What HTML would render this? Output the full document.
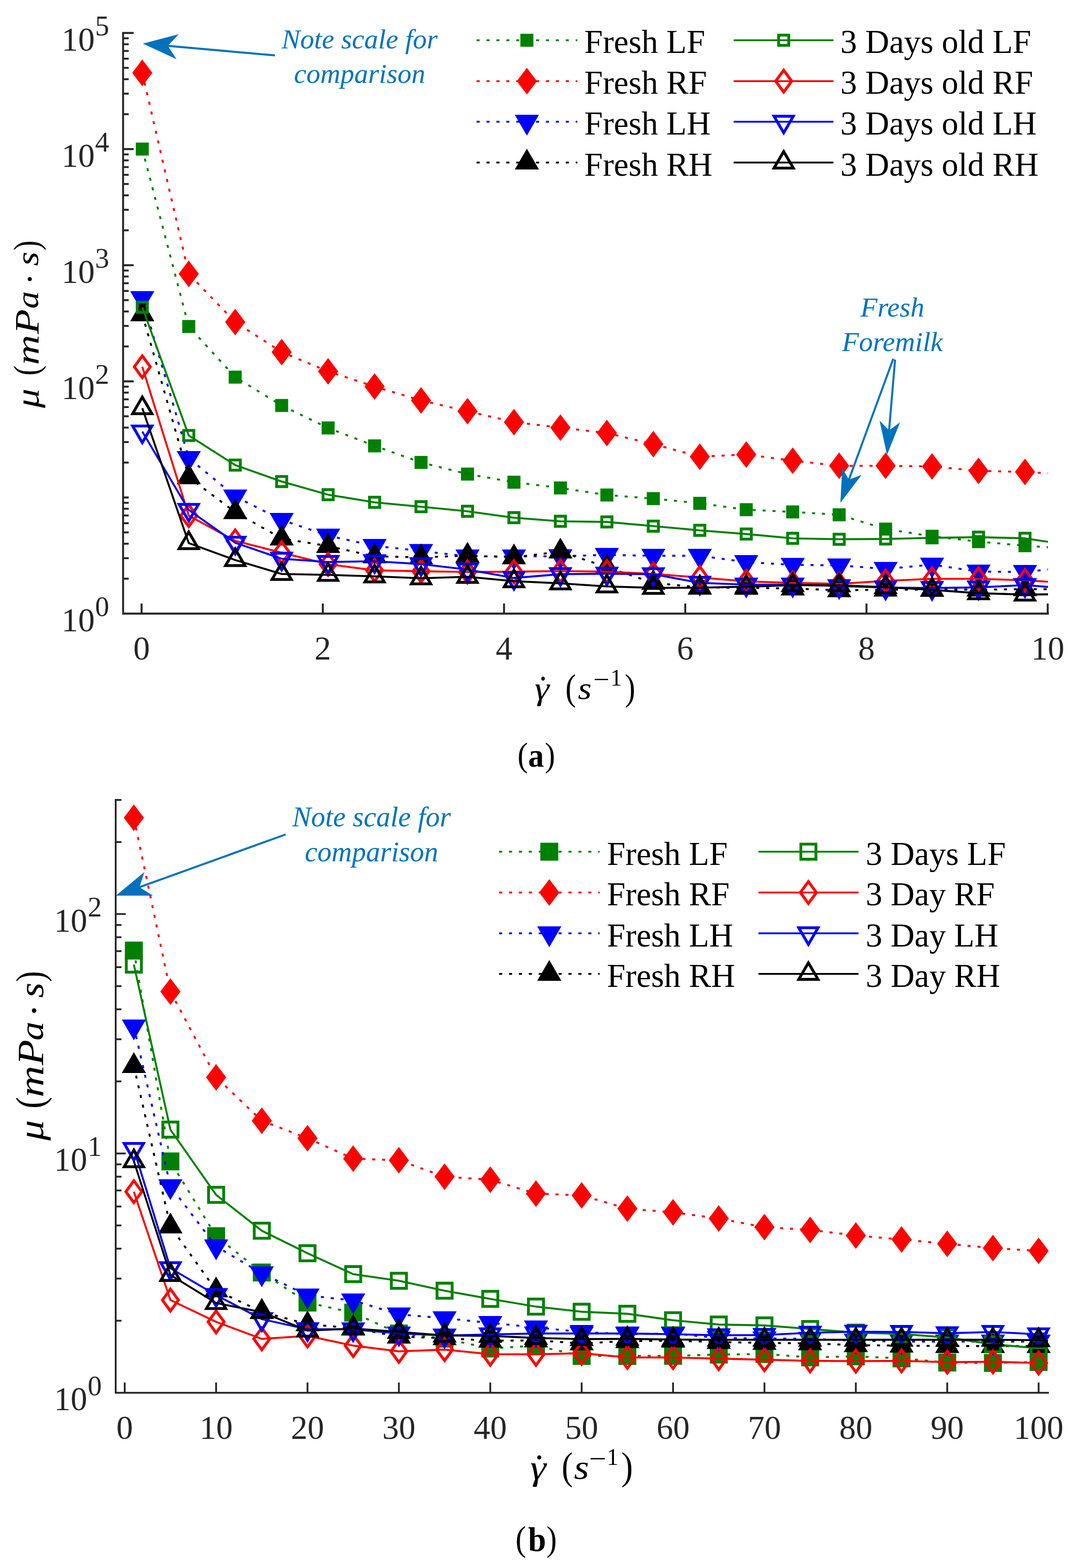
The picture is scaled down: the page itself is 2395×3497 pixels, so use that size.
<!DOCTYPE html><html><head><meta charset="utf-8"><title>Viscosity of breast milk</title>
<style>html,body{margin:0;padding:0;background:#fff;}svg{display:block;}</style></head><body>
<svg width="2395" height="3497" viewBox="0 0 2395 3497">
<rect width="2395" height="3497" fill="#fff"/>
<defs><clipPath id="ca"><rect x="274.5" y="60" width="2062.5" height="1310"/></clipPath><clipPath id="cb"><rect x="258" y="1770" width="2079" height="1338"/></clipPath></defs>
<polyline points="317.3,332.4 420.9,728.2 524.5,841.1 628.1,904.3 731.7,954.4 835.3,994.4 938.9,1031.3 1042.5,1057.3 1146.1,1075.4 1249.7,1088.2 1353.3,1104 1456.9,1112 1560.5,1122.5 1664.1,1136.7 1767.7,1141.7 1871.3,1148.1 1974.9,1180 2078.5,1196 2182.1,1208 2285.7,1217 2337,1220.5" fill="none" stroke="#008000" stroke-width="4.3" stroke-linejoin="round" stroke-dasharray="6.8 15.3" clip-path="url(#ca)"/>
<polygon points="302.8,317.9 331.8,317.9 331.8,346.9 302.8,346.9" fill="#008000"/>
<polygon points="406.4,713.7 435.4,713.7 435.4,742.7 406.4,742.7" fill="#008000"/>
<polygon points="510,826.6 539,826.6 539,855.6 510,855.6" fill="#008000"/>
<polygon points="613.6,889.8 642.6,889.8 642.6,918.8 613.6,918.8" fill="#008000"/>
<polygon points="717.2,939.9 746.2,939.9 746.2,968.9 717.2,968.9" fill="#008000"/>
<polygon points="820.8,979.9 849.8,979.9 849.8,1008.9 820.8,1008.9" fill="#008000"/>
<polygon points="924.4,1016.8 953.4,1016.8 953.4,1045.8 924.4,1045.8" fill="#008000"/>
<polygon points="1028,1042.8 1057,1042.8 1057,1071.8 1028,1071.8" fill="#008000"/>
<polygon points="1131.6,1060.9 1160.6,1060.9 1160.6,1089.9 1131.6,1089.9" fill="#008000"/>
<polygon points="1235.2,1073.7 1264.2,1073.7 1264.2,1102.7 1235.2,1102.7" fill="#008000"/>
<polygon points="1338.8,1089.5 1367.8,1089.5 1367.8,1118.5 1338.8,1118.5" fill="#008000"/>
<polygon points="1442.4,1097.5 1471.4,1097.5 1471.4,1126.5 1442.4,1126.5" fill="#008000"/>
<polygon points="1546,1108 1575,1108 1575,1137 1546,1137" fill="#008000"/>
<polygon points="1649.6,1122.2 1678.6,1122.2 1678.6,1151.2 1649.6,1151.2" fill="#008000"/>
<polygon points="1753.2,1127.2 1782.2,1127.2 1782.2,1156.2 1753.2,1156.2" fill="#008000"/>
<polygon points="1856.8,1133.6 1885.8,1133.6 1885.8,1162.6 1856.8,1162.6" fill="#008000"/>
<polygon points="1960.4,1165.5 1989.4,1165.5 1989.4,1194.5 1960.4,1194.5" fill="#008000"/>
<polygon points="2064,1181.5 2093,1181.5 2093,1210.5 2064,1210.5" fill="#008000"/>
<polygon points="2167.6,1193.5 2196.6,1193.5 2196.6,1222.5 2167.6,1222.5" fill="#008000"/>
<polygon points="2271.2,1202.5 2300.2,1202.5 2300.2,1231.5 2271.2,1231.5" fill="#008000"/>
<polyline points="317.3,162.5 420.9,610.8 524.5,718.3 628.1,785.2 731.7,828.2 835.3,862.1 938.9,893 1042.5,917.1 1146.1,941.4 1249.7,953.7 1353.3,965.7 1456.9,990.6 1560.5,1018.5 1664.1,1013.7 1767.7,1027.4 1871.3,1038.8 1974.9,1038.8 2078.5,1040.2 2182.1,1050.2 2285.7,1052.5 2337,1055.6" fill="none" stroke="#FF0000" stroke-width="4.3" stroke-linejoin="round" stroke-dasharray="6.8 15.3" clip-path="url(#ca)"/>
<polygon points="317.3,132.75 339.8,162.5 317.3,192.25 294.8,162.5" fill="#FF0000"/>
<polygon points="420.9,581.05 443.4,610.8 420.9,640.55 398.4,610.8" fill="#FF0000"/>
<polygon points="524.5,688.55 547,718.3 524.5,748.05 502,718.3" fill="#FF0000"/>
<polygon points="628.1,755.45 650.6,785.2 628.1,814.95 605.6,785.2" fill="#FF0000"/>
<polygon points="731.7,798.45 754.2,828.2 731.7,857.95 709.2,828.2" fill="#FF0000"/>
<polygon points="835.3,832.35 857.8,862.1 835.3,891.85 812.8,862.1" fill="#FF0000"/>
<polygon points="938.9,863.25 961.4,893 938.9,922.75 916.4,893" fill="#FF0000"/>
<polygon points="1042.5,887.35 1065,917.1 1042.5,946.85 1020,917.1" fill="#FF0000"/>
<polygon points="1146.1,911.65 1168.6,941.4 1146.1,971.15 1123.6,941.4" fill="#FF0000"/>
<polygon points="1249.7,923.95 1272.2,953.7 1249.7,983.45 1227.2,953.7" fill="#FF0000"/>
<polygon points="1353.3,935.95 1375.8,965.7 1353.3,995.45 1330.8,965.7" fill="#FF0000"/>
<polygon points="1456.9,960.85 1479.4,990.6 1456.9,1020.35 1434.4,990.6" fill="#FF0000"/>
<polygon points="1560.5,988.75 1583,1018.5 1560.5,1048.25 1538,1018.5" fill="#FF0000"/>
<polygon points="1664.1,983.95 1686.6,1013.7 1664.1,1043.45 1641.6,1013.7" fill="#FF0000"/>
<polygon points="1767.7,997.65 1790.2,1027.4 1767.7,1057.15 1745.2,1027.4" fill="#FF0000"/>
<polygon points="1871.3,1009.05 1893.8,1038.8 1871.3,1068.55 1848.8,1038.8" fill="#FF0000"/>
<polygon points="1974.9,1009.05 1997.4,1038.8 1974.9,1068.55 1952.4,1038.8" fill="#FF0000"/>
<polygon points="2078.5,1010.45 2101,1040.2 2078.5,1069.95 2056,1040.2" fill="#FF0000"/>
<polygon points="2182.1,1020.45 2204.6,1050.2 2182.1,1079.95 2159.6,1050.2" fill="#FF0000"/>
<polygon points="2285.7,1022.75 2308.2,1052.5 2285.7,1082.25 2263.2,1052.5" fill="#FF0000"/>
<polyline points="317.3,664.7 420.9,1021.5 524.5,1107.2 628.1,1159.6 731.7,1194.5 835.3,1217.4 938.9,1228.8 1042.5,1240.9 1146.1,1240.9 1249.7,1240.4 1353.3,1237.6 1456.9,1239.5 1560.5,1239.5 1664.1,1253.6 1767.7,1259.7 1871.3,1260.9 1974.9,1268.8 2078.5,1259.2 2182.1,1274.8 2285.7,1275.6 2337,1270" fill="none" stroke="#0000FF" stroke-width="4.3" stroke-linejoin="round" stroke-dasharray="6.8 15.3" clip-path="url(#ca)"/>
<polygon points="290.3,649.2 344.3,649.2 317.3,695.7" fill="#0000FF"/>
<polygon points="393.9,1006 447.9,1006 420.9,1052.5" fill="#0000FF"/>
<polygon points="497.5,1091.7 551.5,1091.7 524.5,1138.2" fill="#0000FF"/>
<polygon points="601.1,1144.1 655.1,1144.1 628.1,1190.6" fill="#0000FF"/>
<polygon points="704.7,1179 758.7,1179 731.7,1225.5" fill="#0000FF"/>
<polygon points="808.3,1201.9 862.3,1201.9 835.3,1248.4" fill="#0000FF"/>
<polygon points="911.9,1213.3 965.9,1213.3 938.9,1259.8" fill="#0000FF"/>
<polygon points="1015.5,1225.4 1069.5,1225.4 1042.5,1271.9" fill="#0000FF"/>
<polygon points="1119.1,1225.4 1173.1,1225.4 1146.1,1271.9" fill="#0000FF"/>
<polygon points="1222.7,1224.9 1276.7,1224.9 1249.7,1271.4" fill="#0000FF"/>
<polygon points="1326.3,1222.1 1380.3,1222.1 1353.3,1268.6" fill="#0000FF"/>
<polygon points="1429.9,1224 1483.9,1224 1456.9,1270.5" fill="#0000FF"/>
<polygon points="1533.5,1224 1587.5,1224 1560.5,1270.5" fill="#0000FF"/>
<polygon points="1637.1,1238.1 1691.1,1238.1 1664.1,1284.6" fill="#0000FF"/>
<polygon points="1740.7,1244.2 1794.7,1244.2 1767.7,1290.7" fill="#0000FF"/>
<polygon points="1844.3,1245.4 1898.3,1245.4 1871.3,1291.9" fill="#0000FF"/>
<polygon points="1947.9,1253.3 2001.9,1253.3 1974.9,1299.8" fill="#0000FF"/>
<polygon points="2051.5,1243.7 2105.5,1243.7 2078.5,1290.2" fill="#0000FF"/>
<polygon points="2155.1,1259.3 2209.1,1259.3 2182.1,1305.8" fill="#0000FF"/>
<polygon points="2258.7,1260.1 2312.7,1260.1 2285.7,1306.6" fill="#0000FF"/>
<polyline points="317.3,700.9 420.9,1064.4 524.5,1142.2 628.1,1201 731.7,1217.8 835.3,1240.7 938.9,1243 1042.5,1239.2 1146.1,1243.1 1249.7,1230.1 1353.3,1264.9 1456.9,1300 1560.5,1310 1664.1,1311 1767.7,1312.5 1871.3,1316.5 1974.9,1315 2078.5,1315 2182.1,1315 2285.7,1314 2337,1314" fill="none" stroke="#000000" stroke-width="4.3" stroke-linejoin="round" stroke-dasharray="6.8 15.3" clip-path="url(#ca)"/>
<polygon points="317.3,669.9 344.3,716.4 290.3,716.4" fill="#000000"/>
<polygon points="420.9,1033.4 447.9,1079.9 393.9,1079.9" fill="#000000"/>
<polygon points="524.5,1111.2 551.5,1157.7 497.5,1157.7" fill="#000000"/>
<polygon points="628.1,1170 655.1,1216.5 601.1,1216.5" fill="#000000"/>
<polygon points="731.7,1186.8 758.7,1233.3 704.7,1233.3" fill="#000000"/>
<polygon points="835.3,1209.7 862.3,1256.2 808.3,1256.2" fill="#000000"/>
<polygon points="938.9,1212 965.9,1258.5 911.9,1258.5" fill="#000000"/>
<polygon points="1042.5,1208.2 1069.5,1254.7 1015.5,1254.7" fill="#000000"/>
<polygon points="1146.1,1212.1 1173.1,1258.6 1119.1,1258.6" fill="#000000"/>
<polygon points="1249.7,1199.1 1276.7,1245.6 1222.7,1245.6" fill="#000000"/>
<polygon points="1353.3,1233.9 1380.3,1280.4 1326.3,1280.4" fill="#000000"/>
<polygon points="1456.9,1269 1483.9,1315.5 1429.9,1315.5" fill="#000000"/>
<polygon points="1560.5,1279 1587.5,1325.5 1533.5,1325.5" fill="#000000"/>
<polygon points="1664.1,1280 1691.1,1326.5 1637.1,1326.5" fill="#000000"/>
<polygon points="1767.7,1281.5 1794.7,1328 1740.7,1328" fill="#000000"/>
<polygon points="1871.3,1285.5 1898.3,1332 1844.3,1332" fill="#000000"/>
<polygon points="1974.9,1284 2001.9,1330.5 1947.9,1330.5" fill="#000000"/>
<polygon points="2078.5,1284 2105.5,1330.5 2051.5,1330.5" fill="#000000"/>
<polygon points="2182.1,1284 2209.1,1330.5 2155.1,1330.5" fill="#000000"/>
<polygon points="2285.7,1283 2312.7,1329.5 2258.7,1329.5" fill="#000000"/>
<polyline points="317.3,685.3 420.9,971.2 524.5,1037.3 628.1,1073.9 731.7,1103.3 835.3,1120.3 938.9,1130.1 1042.5,1140.3 1146.1,1154.6 1249.7,1162.6 1353.3,1164 1456.9,1173.4 1560.5,1182.8 1664.1,1191 1767.7,1200.6 1871.3,1202.7 1974.9,1202 2078.5,1199.5 2182.1,1198 2285.7,1200.5 2337,1208.5" fill="none" stroke="#008000" stroke-width="4.3" stroke-linejoin="round" clip-path="url(#ca)"/>
<path d="M302.8 670.8 L331.8 670.8 L331.8 699.8 L302.8 699.8 Z M309.1 677.1 L325.5 677.1 L325.5 693.5 L309.1 693.5 Z" fill="#008000" fill-rule="evenodd"/>
<path d="M406.4 956.7 L435.4 956.7 L435.4 985.7 L406.4 985.7 Z M412.7 963 L429.1 963 L429.1 979.4 L412.7 979.4 Z" fill="#008000" fill-rule="evenodd"/>
<path d="M510 1022.8 L539 1022.8 L539 1051.8 L510 1051.8 Z M516.3 1029.1 L532.7 1029.1 L532.7 1045.5 L516.3 1045.5 Z" fill="#008000" fill-rule="evenodd"/>
<path d="M613.6 1059.4 L642.6 1059.4 L642.6 1088.4 L613.6 1088.4 Z M619.9 1065.7 L636.3 1065.7 L636.3 1082.1 L619.9 1082.1 Z" fill="#008000" fill-rule="evenodd"/>
<path d="M717.2 1088.8 L746.2 1088.8 L746.2 1117.8 L717.2 1117.8 Z M723.5 1095.1 L739.9 1095.1 L739.9 1111.5 L723.5 1111.5 Z" fill="#008000" fill-rule="evenodd"/>
<path d="M820.8 1105.8 L849.8 1105.8 L849.8 1134.8 L820.8 1134.8 Z M827.1 1112.1 L843.5 1112.1 L843.5 1128.5 L827.1 1128.5 Z" fill="#008000" fill-rule="evenodd"/>
<path d="M924.4 1115.6 L953.4 1115.6 L953.4 1144.6 L924.4 1144.6 Z M930.7 1121.9 L947.1 1121.9 L947.1 1138.3 L930.7 1138.3 Z" fill="#008000" fill-rule="evenodd"/>
<path d="M1028 1125.8 L1057 1125.8 L1057 1154.8 L1028 1154.8 Z M1034.3 1132.1 L1050.7 1132.1 L1050.7 1148.5 L1034.3 1148.5 Z" fill="#008000" fill-rule="evenodd"/>
<path d="M1131.6 1140.1 L1160.6 1140.1 L1160.6 1169.1 L1131.6 1169.1 Z M1137.9 1146.4 L1154.3 1146.4 L1154.3 1162.8 L1137.9 1162.8 Z" fill="#008000" fill-rule="evenodd"/>
<path d="M1235.2 1148.1 L1264.2 1148.1 L1264.2 1177.1 L1235.2 1177.1 Z M1241.5 1154.4 L1257.9 1154.4 L1257.9 1170.8 L1241.5 1170.8 Z" fill="#008000" fill-rule="evenodd"/>
<path d="M1338.8 1149.5 L1367.8 1149.5 L1367.8 1178.5 L1338.8 1178.5 Z M1345.1 1155.8 L1361.5 1155.8 L1361.5 1172.2 L1345.1 1172.2 Z" fill="#008000" fill-rule="evenodd"/>
<path d="M1442.4 1158.9 L1471.4 1158.9 L1471.4 1187.9 L1442.4 1187.9 Z M1448.7 1165.2 L1465.1 1165.2 L1465.1 1181.6 L1448.7 1181.6 Z" fill="#008000" fill-rule="evenodd"/>
<path d="M1546 1168.3 L1575 1168.3 L1575 1197.3 L1546 1197.3 Z M1552.3 1174.6 L1568.7 1174.6 L1568.7 1191 L1552.3 1191 Z" fill="#008000" fill-rule="evenodd"/>
<path d="M1649.6 1176.5 L1678.6 1176.5 L1678.6 1205.5 L1649.6 1205.5 Z M1655.9 1182.8 L1672.3 1182.8 L1672.3 1199.2 L1655.9 1199.2 Z" fill="#008000" fill-rule="evenodd"/>
<path d="M1753.2 1186.1 L1782.2 1186.1 L1782.2 1215.1 L1753.2 1215.1 Z M1759.5 1192.4 L1775.9 1192.4 L1775.9 1208.8 L1759.5 1208.8 Z" fill="#008000" fill-rule="evenodd"/>
<path d="M1856.8 1188.2 L1885.8 1188.2 L1885.8 1217.2 L1856.8 1217.2 Z M1863.1 1194.5 L1879.5 1194.5 L1879.5 1210.9 L1863.1 1210.9 Z" fill="#008000" fill-rule="evenodd"/>
<path d="M1960.4 1187.5 L1989.4 1187.5 L1989.4 1216.5 L1960.4 1216.5 Z M1966.7 1193.8 L1983.1 1193.8 L1983.1 1210.2 L1966.7 1210.2 Z" fill="#008000" fill-rule="evenodd"/>
<path d="M2064 1185 L2093 1185 L2093 1214 L2064 1214 Z M2070.3 1191.3 L2086.7 1191.3 L2086.7 1207.7 L2070.3 1207.7 Z" fill="#008000" fill-rule="evenodd"/>
<path d="M2167.6 1183.5 L2196.6 1183.5 L2196.6 1212.5 L2167.6 1212.5 Z M2173.9 1189.8 L2190.3 1189.8 L2190.3 1206.2 L2173.9 1206.2 Z" fill="#008000" fill-rule="evenodd"/>
<path d="M2271.2 1186 L2300.2 1186 L2300.2 1215 L2271.2 1215 Z M2277.5 1192.3 L2293.9 1192.3 L2293.9 1208.7 L2277.5 1208.7 Z" fill="#008000" fill-rule="evenodd"/>
<polyline points="317.3,818 420.9,1150 524.5,1206.2 628.1,1232.6 731.7,1258.4 835.3,1272 938.9,1274 1042.5,1275.6 1146.1,1275 1249.7,1273.6 1353.3,1274.8 1456.9,1279.9 1560.5,1288 1664.1,1296.6 1767.7,1300 1871.3,1302.2 1974.9,1295.5 2078.5,1290.8 2182.1,1290.8 2285.7,1294.2 2337,1297.3" fill="none" stroke="#FF0000" stroke-width="4.3" stroke-linejoin="round" clip-path="url(#ca)"/>
<path d="M317.3 788.25 L339.05 818 L317.3 847.75 L295.55 818 Z M317.3 798.92 L331.25 818 L317.3 837.08 L303.35 818 Z" fill="#FF0000" fill-rule="evenodd"/>
<path d="M420.9 1120.25 L442.65 1150 L420.9 1179.75 L399.15 1150 Z M420.9 1130.92 L434.85 1150 L420.9 1169.08 L406.95 1150 Z" fill="#FF0000" fill-rule="evenodd"/>
<path d="M524.5 1176.45 L546.25 1206.2 L524.5 1235.95 L502.75 1206.2 Z M524.5 1187.12 L538.45 1206.2 L524.5 1225.28 L510.55 1206.2 Z" fill="#FF0000" fill-rule="evenodd"/>
<path d="M628.1 1202.85 L649.85 1232.6 L628.1 1262.35 L606.35 1232.6 Z M628.1 1213.52 L642.05 1232.6 L628.1 1251.68 L614.15 1232.6 Z" fill="#FF0000" fill-rule="evenodd"/>
<path d="M731.7 1228.65 L753.45 1258.4 L731.7 1288.15 L709.95 1258.4 Z M731.7 1239.32 L745.65 1258.4 L731.7 1277.48 L717.75 1258.4 Z" fill="#FF0000" fill-rule="evenodd"/>
<path d="M835.3 1242.25 L857.05 1272 L835.3 1301.75 L813.55 1272 Z M835.3 1252.92 L849.25 1272 L835.3 1291.08 L821.35 1272 Z" fill="#FF0000" fill-rule="evenodd"/>
<path d="M938.9 1244.25 L960.65 1274 L938.9 1303.75 L917.15 1274 Z M938.9 1254.92 L952.85 1274 L938.9 1293.08 L924.95 1274 Z" fill="#FF0000" fill-rule="evenodd"/>
<path d="M1042.5 1245.85 L1064.25 1275.6 L1042.5 1305.35 L1020.75 1275.6 Z M1042.5 1256.52 L1056.45 1275.6 L1042.5 1294.68 L1028.55 1275.6 Z" fill="#FF0000" fill-rule="evenodd"/>
<path d="M1146.1 1245.25 L1167.85 1275 L1146.1 1304.75 L1124.35 1275 Z M1146.1 1255.92 L1160.05 1275 L1146.1 1294.08 L1132.15 1275 Z" fill="#FF0000" fill-rule="evenodd"/>
<path d="M1249.7 1243.85 L1271.45 1273.6 L1249.7 1303.35 L1227.95 1273.6 Z M1249.7 1254.52 L1263.65 1273.6 L1249.7 1292.68 L1235.75 1273.6 Z" fill="#FF0000" fill-rule="evenodd"/>
<path d="M1353.3 1245.05 L1375.05 1274.8 L1353.3 1304.55 L1331.55 1274.8 Z M1353.3 1255.72 L1367.25 1274.8 L1353.3 1293.88 L1339.35 1274.8 Z" fill="#FF0000" fill-rule="evenodd"/>
<path d="M1456.9 1250.15 L1478.65 1279.9 L1456.9 1309.65 L1435.15 1279.9 Z M1456.9 1260.82 L1470.85 1279.9 L1456.9 1298.98 L1442.95 1279.9 Z" fill="#FF0000" fill-rule="evenodd"/>
<path d="M1560.5 1258.25 L1582.25 1288 L1560.5 1317.75 L1538.75 1288 Z M1560.5 1268.92 L1574.45 1288 L1560.5 1307.08 L1546.55 1288 Z" fill="#FF0000" fill-rule="evenodd"/>
<path d="M1664.1 1266.85 L1685.85 1296.6 L1664.1 1326.35 L1642.35 1296.6 Z M1664.1 1277.52 L1678.05 1296.6 L1664.1 1315.68 L1650.15 1296.6 Z" fill="#FF0000" fill-rule="evenodd"/>
<path d="M1767.7 1270.25 L1789.45 1300 L1767.7 1329.75 L1745.95 1300 Z M1767.7 1280.92 L1781.65 1300 L1767.7 1319.08 L1753.75 1300 Z" fill="#FF0000" fill-rule="evenodd"/>
<path d="M1871.3 1272.45 L1893.05 1302.2 L1871.3 1331.95 L1849.55 1302.2 Z M1871.3 1283.12 L1885.25 1302.2 L1871.3 1321.28 L1857.35 1302.2 Z" fill="#FF0000" fill-rule="evenodd"/>
<path d="M1974.9 1265.75 L1996.65 1295.5 L1974.9 1325.25 L1953.15 1295.5 Z M1974.9 1276.42 L1988.85 1295.5 L1974.9 1314.58 L1960.95 1295.5 Z" fill="#FF0000" fill-rule="evenodd"/>
<path d="M2078.5 1261.05 L2100.25 1290.8 L2078.5 1320.55 L2056.75 1290.8 Z M2078.5 1271.72 L2092.45 1290.8 L2078.5 1309.88 L2064.55 1290.8 Z" fill="#FF0000" fill-rule="evenodd"/>
<path d="M2182.1 1261.05 L2203.85 1290.8 L2182.1 1320.55 L2160.35 1290.8 Z M2182.1 1271.72 L2196.05 1290.8 L2182.1 1309.88 L2168.15 1290.8 Z" fill="#FF0000" fill-rule="evenodd"/>
<path d="M2285.7 1264.45 L2307.45 1294.2 L2285.7 1323.95 L2263.95 1294.2 Z M2285.7 1275.12 L2299.65 1294.2 L2285.7 1313.28 L2271.75 1294.2 Z" fill="#FF0000" fill-rule="evenodd"/>
<polyline points="317.3,962.5 420.9,1137.3 524.5,1210.5 628.1,1246.1 731.7,1253.3 835.3,1251.7 938.9,1258.2 1042.5,1270.3 1146.1,1289 1249.7,1280.5 1353.3,1279.5 1456.9,1280.7 1560.5,1299.8 1664.1,1303.8 1767.7,1303.8 1871.3,1307.2 1974.9,1310.3 2078.5,1311.3 2182.1,1310 2285.7,1304.8 2337,1309" fill="none" stroke="#0000FF" stroke-width="4.3" stroke-linejoin="round" clip-path="url(#ca)"/>
<path d="M290.3 947 L344.3 947 L317.3 993.5 Z M301.24 953.3 L333.36 953.3 L317.3 980.95 Z" fill="#0000FF" fill-rule="evenodd"/>
<path d="M393.9 1121.8 L447.9 1121.8 L420.9 1168.3 Z M404.84 1128.1 L436.96 1128.1 L420.9 1155.75 Z" fill="#0000FF" fill-rule="evenodd"/>
<path d="M497.5 1195 L551.5 1195 L524.5 1241.5 Z M508.44 1201.3 L540.56 1201.3 L524.5 1228.95 Z" fill="#0000FF" fill-rule="evenodd"/>
<path d="M601.1 1230.6 L655.1 1230.6 L628.1 1277.1 Z M612.04 1236.9 L644.16 1236.9 L628.1 1264.55 Z" fill="#0000FF" fill-rule="evenodd"/>
<path d="M704.7 1237.8 L758.7 1237.8 L731.7 1284.3 Z M715.64 1244.1 L747.76 1244.1 L731.7 1271.75 Z" fill="#0000FF" fill-rule="evenodd"/>
<path d="M808.3 1236.2 L862.3 1236.2 L835.3 1282.7 Z M819.24 1242.5 L851.36 1242.5 L835.3 1270.15 Z" fill="#0000FF" fill-rule="evenodd"/>
<path d="M911.9 1242.7 L965.9 1242.7 L938.9 1289.2 Z M922.84 1249 L954.96 1249 L938.9 1276.65 Z" fill="#0000FF" fill-rule="evenodd"/>
<path d="M1015.5 1254.8 L1069.5 1254.8 L1042.5 1301.3 Z M1026.44 1261.1 L1058.56 1261.1 L1042.5 1288.75 Z" fill="#0000FF" fill-rule="evenodd"/>
<path d="M1119.1 1273.5 L1173.1 1273.5 L1146.1 1320 Z M1130.04 1279.8 L1162.16 1279.8 L1146.1 1307.45 Z" fill="#0000FF" fill-rule="evenodd"/>
<path d="M1222.7 1265 L1276.7 1265 L1249.7 1311.5 Z M1233.64 1271.3 L1265.76 1271.3 L1249.7 1298.95 Z" fill="#0000FF" fill-rule="evenodd"/>
<path d="M1326.3 1264 L1380.3 1264 L1353.3 1310.5 Z M1337.24 1270.3 L1369.36 1270.3 L1353.3 1297.95 Z" fill="#0000FF" fill-rule="evenodd"/>
<path d="M1429.9 1265.2 L1483.9 1265.2 L1456.9 1311.7 Z M1440.84 1271.5 L1472.96 1271.5 L1456.9 1299.15 Z" fill="#0000FF" fill-rule="evenodd"/>
<path d="M1533.5 1284.3 L1587.5 1284.3 L1560.5 1330.8 Z M1544.44 1290.6 L1576.56 1290.6 L1560.5 1318.25 Z" fill="#0000FF" fill-rule="evenodd"/>
<path d="M1637.1 1288.3 L1691.1 1288.3 L1664.1 1334.8 Z M1648.04 1294.6 L1680.16 1294.6 L1664.1 1322.25 Z" fill="#0000FF" fill-rule="evenodd"/>
<path d="M1740.7 1288.3 L1794.7 1288.3 L1767.7 1334.8 Z M1751.64 1294.6 L1783.76 1294.6 L1767.7 1322.25 Z" fill="#0000FF" fill-rule="evenodd"/>
<path d="M1844.3 1291.7 L1898.3 1291.7 L1871.3 1338.2 Z M1855.24 1298 L1887.36 1298 L1871.3 1325.65 Z" fill="#0000FF" fill-rule="evenodd"/>
<path d="M1947.9 1294.8 L2001.9 1294.8 L1974.9 1341.3 Z M1958.84 1301.1 L1990.96 1301.1 L1974.9 1328.75 Z" fill="#0000FF" fill-rule="evenodd"/>
<path d="M2051.5 1295.8 L2105.5 1295.8 L2078.5 1342.3 Z M2062.44 1302.1 L2094.56 1302.1 L2078.5 1329.75 Z" fill="#0000FF" fill-rule="evenodd"/>
<path d="M2155.1 1294.5 L2209.1 1294.5 L2182.1 1341 Z M2166.04 1300.8 L2198.16 1300.8 L2182.1 1328.45 Z" fill="#0000FF" fill-rule="evenodd"/>
<path d="M2258.7 1289.3 L2312.7 1289.3 L2285.7 1335.8 Z M2269.64 1295.6 L2301.76 1295.6 L2285.7 1323.25 Z" fill="#0000FF" fill-rule="evenodd"/>
<polyline points="317.3,910.2 420.9,1211.3 524.5,1249 628.1,1280.1 731.7,1282.1 835.3,1285.4 938.9,1289.7 1042.5,1286.4 1146.1,1296.2 1249.7,1301 1353.3,1307.8 1456.9,1311 1560.5,1310.7 1664.1,1308.5 1767.7,1305 1871.3,1305.5 1974.9,1309.5 2078.5,1315.5 2182.1,1323 2285.7,1326 2337,1325.5" fill="none" stroke="#000000" stroke-width="4.3" stroke-linejoin="round" clip-path="url(#ca)"/>
<path d="M317.3 879.2 L344.3 925.7 L290.3 925.7 Z M317.3 891.75 L333.36 919.4 L301.24 919.4 Z" fill="#000000" fill-rule="evenodd"/>
<path d="M420.9 1180.3 L447.9 1226.8 L393.9 1226.8 Z M420.9 1192.85 L436.96 1220.5 L404.84 1220.5 Z" fill="#000000" fill-rule="evenodd"/>
<path d="M524.5 1218 L551.5 1264.5 L497.5 1264.5 Z M524.5 1230.55 L540.56 1258.2 L508.44 1258.2 Z" fill="#000000" fill-rule="evenodd"/>
<path d="M628.1 1249.1 L655.1 1295.6 L601.1 1295.6 Z M628.1 1261.65 L644.16 1289.3 L612.04 1289.3 Z" fill="#000000" fill-rule="evenodd"/>
<path d="M731.7 1251.1 L758.7 1297.6 L704.7 1297.6 Z M731.7 1263.65 L747.76 1291.3 L715.64 1291.3 Z" fill="#000000" fill-rule="evenodd"/>
<path d="M835.3 1254.4 L862.3 1300.9 L808.3 1300.9 Z M835.3 1266.95 L851.36 1294.6 L819.24 1294.6 Z" fill="#000000" fill-rule="evenodd"/>
<path d="M938.9 1258.7 L965.9 1305.2 L911.9 1305.2 Z M938.9 1271.25 L954.96 1298.9 L922.84 1298.9 Z" fill="#000000" fill-rule="evenodd"/>
<path d="M1042.5 1255.4 L1069.5 1301.9 L1015.5 1301.9 Z M1042.5 1267.95 L1058.56 1295.6 L1026.44 1295.6 Z" fill="#000000" fill-rule="evenodd"/>
<path d="M1146.1 1265.2 L1173.1 1311.7 L1119.1 1311.7 Z M1146.1 1277.75 L1162.16 1305.4 L1130.04 1305.4 Z" fill="#000000" fill-rule="evenodd"/>
<path d="M1249.7 1270 L1276.7 1316.5 L1222.7 1316.5 Z M1249.7 1282.55 L1265.76 1310.2 L1233.64 1310.2 Z" fill="#000000" fill-rule="evenodd"/>
<path d="M1353.3 1276.8 L1380.3 1323.3 L1326.3 1323.3 Z M1353.3 1289.35 L1369.36 1317 L1337.24 1317 Z" fill="#000000" fill-rule="evenodd"/>
<path d="M1456.9 1280 L1483.9 1326.5 L1429.9 1326.5 Z M1456.9 1292.55 L1472.96 1320.2 L1440.84 1320.2 Z" fill="#000000" fill-rule="evenodd"/>
<path d="M1560.5 1279.7 L1587.5 1326.2 L1533.5 1326.2 Z M1560.5 1292.25 L1576.56 1319.9 L1544.44 1319.9 Z" fill="#000000" fill-rule="evenodd"/>
<path d="M1664.1 1277.5 L1691.1 1324 L1637.1 1324 Z M1664.1 1290.05 L1680.16 1317.7 L1648.04 1317.7 Z" fill="#000000" fill-rule="evenodd"/>
<path d="M1767.7 1274 L1794.7 1320.5 L1740.7 1320.5 Z M1767.7 1286.55 L1783.76 1314.2 L1751.64 1314.2 Z" fill="#000000" fill-rule="evenodd"/>
<path d="M1871.3 1274.5 L1898.3 1321 L1844.3 1321 Z M1871.3 1287.05 L1887.36 1314.7 L1855.24 1314.7 Z" fill="#000000" fill-rule="evenodd"/>
<path d="M1974.9 1278.5 L2001.9 1325 L1947.9 1325 Z M1974.9 1291.05 L1990.96 1318.7 L1958.84 1318.7 Z" fill="#000000" fill-rule="evenodd"/>
<path d="M2078.5 1284.5 L2105.5 1331 L2051.5 1331 Z M2078.5 1297.05 L2094.56 1324.7 L2062.44 1324.7 Z" fill="#000000" fill-rule="evenodd"/>
<path d="M2182.1 1292 L2209.1 1338.5 L2155.1 1338.5 Z M2182.1 1304.55 L2198.16 1332.2 L2166.04 1332.2 Z" fill="#000000" fill-rule="evenodd"/>
<path d="M2285.7 1295 L2312.7 1341.5 L2258.7 1341.5 Z M2285.7 1307.55 L2301.76 1335.2 L2269.64 1335.2 Z" fill="#000000" fill-rule="evenodd"/>
<path d="M274.5 71.3 V1370.6 M272.4 1368.5 H2339" stroke="#262626" stroke-width="4.3" fill="none"/>
<path d="M274.5 1290.53 h12.5 M274.5 1244.93 h12.5 M274.5 1212.57 h12.5 M274.5 1187.47 h12.5 M274.5 1166.96 h12.5 M274.5 1149.62 h12.5 M274.5 1134.6 h12.5 M274.5 1121.35 h12.5 M274.5 1031.53 h12.5 M274.5 985.93 h12.5 M274.5 953.57 h12.5 M274.5 928.47 h12.5 M274.5 907.96 h12.5 M274.5 890.62 h12.5 M274.5 875.6 h12.5 M274.5 862.35 h12.5 M274.5 772.53 h12.5 M274.5 726.93 h12.5 M274.5 694.57 h12.5 M274.5 669.47 h12.5 M274.5 648.96 h12.5 M274.5 631.62 h12.5 M274.5 616.6 h12.5 M274.5 603.35 h12.5 M274.5 513.53 h12.5 M274.5 467.93 h12.5 M274.5 435.57 h12.5 M274.5 410.47 h12.5 M274.5 389.96 h12.5 M274.5 372.62 h12.5 M274.5 357.6 h12.5 M274.5 344.35 h12.5 M274.5 254.53 h12.5 M274.5 208.93 h12.5 M274.5 176.57 h12.5 M274.5 151.47 h12.5 M274.5 130.96 h12.5 M274.5 113.62 h12.5 M274.5 98.6 h12.5 M274.5 85.35 h12.5 M274.5 850.5 h23.5 M274.5 591.5 h23.5 M274.5 332.5 h23.5 M274.5 73.5 h23.5 M274.5 1109.5 h12.5 M315.7 1368.5 v-22.5 M719.84 1368.5 v-22.5 M1123.98 1368.5 v-22.5 M1528.12 1368.5 v-22.5 M1932.26 1368.5 v-22.5 M2336.4 1368.5 v-22.5" stroke="#262626" stroke-width="4.3" fill="none"/>
<text x="137.2" y="112.5" font-family="'Liberation Serif', 'Times New Roman', serif" font-size="74" fill="#262626">10</text><text x="212" y="79" font-family="'Liberation Serif', 'Times New Roman', serif" font-size="63" fill="#262626">5</text>
<text x="137.2" y="371.5" font-family="'Liberation Serif', 'Times New Roman', serif" font-size="74" fill="#262626">10</text><text x="212" y="338" font-family="'Liberation Serif', 'Times New Roman', serif" font-size="63" fill="#262626">4</text>
<text x="137.2" y="630.5" font-family="'Liberation Serif', 'Times New Roman', serif" font-size="74" fill="#262626">10</text><text x="212" y="597" font-family="'Liberation Serif', 'Times New Roman', serif" font-size="63" fill="#262626">3</text>
<text x="137.2" y="889.5" font-family="'Liberation Serif', 'Times New Roman', serif" font-size="74" fill="#262626">10</text><text x="212" y="856" font-family="'Liberation Serif', 'Times New Roman', serif" font-size="63" fill="#262626">2</text>
<text x="137.2" y="1407.5" font-family="'Liberation Serif', 'Times New Roman', serif" font-size="74" fill="#262626">10</text><text x="212" y="1374" font-family="'Liberation Serif', 'Times New Roman', serif" font-size="63" fill="#262626">0</text>
<text x="315.7" y="1470.7" font-family="'Liberation Serif', 'Times New Roman', serif" font-size="74" fill="#262626" text-anchor="middle">0</text>
<text x="719.84" y="1470.7" font-family="'Liberation Serif', 'Times New Roman', serif" font-size="74" fill="#262626" text-anchor="middle">2</text>
<text x="1123.98" y="1470.7" font-family="'Liberation Serif', 'Times New Roman', serif" font-size="74" fill="#262626" text-anchor="middle">4</text>
<text x="1528.12" y="1470.7" font-family="'Liberation Serif', 'Times New Roman', serif" font-size="74" fill="#262626" text-anchor="middle">6</text>
<text x="1932.26" y="1470.7" font-family="'Liberation Serif', 'Times New Roman', serif" font-size="74" fill="#262626" text-anchor="middle">8</text>
<text x="2336.4" y="1470.7" font-family="'Liberation Serif', 'Times New Roman', serif" font-size="74" fill="#262626" text-anchor="middle">10</text>
<polyline points="298.48,2120 380,2590.2 481.9,2757 583.8,2837.9 685.7,2905 787.6,2927.6 889.5,2974 991.4,2985.5 1093.3,3007.5 1195.2,3001 1297.1,3024 1399,3024 1500.9,3023.7 1602.8,3021 1704.7,3019.7 1806.6,3027.2 1908.5,3025 2010.4,3029.5 2112.3,3038.8 2214.2,3039.7 2316.1,3037.4" fill="none" stroke="#008000" stroke-width="4.3" stroke-linejoin="round" stroke-dasharray="6.8 15.3" clip-path="url(#cb)"/>
<polygon points="278.48,2100 318.48,2100 318.48,2140 278.48,2140" fill="#008000"/>
<polygon points="360,2570.2 400,2570.2 400,2610.2 360,2610.2" fill="#008000"/>
<polygon points="461.9,2737 501.9,2737 501.9,2777 461.9,2777" fill="#008000"/>
<polygon points="563.8,2817.9 603.8,2817.9 603.8,2857.9 563.8,2857.9" fill="#008000"/>
<polygon points="665.7,2885 705.7,2885 705.7,2925 665.7,2925" fill="#008000"/>
<polygon points="767.6,2907.6 807.6,2907.6 807.6,2947.6 767.6,2947.6" fill="#008000"/>
<polygon points="869.5,2954 909.5,2954 909.5,2994 869.5,2994" fill="#008000"/>
<polygon points="971.4,2965.5 1011.4,2965.5 1011.4,3005.5 971.4,3005.5" fill="#008000"/>
<polygon points="1073.3,2987.5 1113.3,2987.5 1113.3,3027.5 1073.3,3027.5" fill="#008000"/>
<polygon points="1175.2,2981 1215.2,2981 1215.2,3021 1175.2,3021" fill="#008000"/>
<polygon points="1277.1,3004 1317.1,3004 1317.1,3044 1277.1,3044" fill="#008000"/>
<polygon points="1379,3004 1419,3004 1419,3044 1379,3044" fill="#008000"/>
<polygon points="1480.9,3003.7 1520.9,3003.7 1520.9,3043.7 1480.9,3043.7" fill="#008000"/>
<polygon points="1582.8,3001 1622.8,3001 1622.8,3041 1582.8,3041" fill="#008000"/>
<polygon points="1684.7,2999.7 1724.7,2999.7 1724.7,3039.7 1684.7,3039.7" fill="#008000"/>
<polygon points="1786.6,3007.2 1826.6,3007.2 1826.6,3047.2 1786.6,3047.2" fill="#008000"/>
<polygon points="1888.5,3005 1928.5,3005 1928.5,3045 1888.5,3045" fill="#008000"/>
<polygon points="1990.4,3009.5 2030.4,3009.5 2030.4,3049.5 1990.4,3049.5" fill="#008000"/>
<polygon points="2092.3,3018.8 2132.3,3018.8 2132.3,3058.8 2092.3,3058.8" fill="#008000"/>
<polygon points="2194.2,3019.7 2234.2,3019.7 2234.2,3059.7 2194.2,3059.7" fill="#008000"/>
<polygon points="2296.1,3017.4 2336.1,3017.4 2336.1,3057.4 2296.1,3057.4" fill="#008000"/>
<polyline points="298.48,1823.8 380,2211.4 481.9,2402.7 583.8,2499.5 685.7,2538.5 787.6,2583.9 889.5,2587.7 991.4,2624.3 1093.3,2631 1195.2,2662 1297.1,2666 1399,2695.6 1500.9,2703.8 1602.8,2717.6 1704.7,2736.8 1806.6,2743 1908.5,2755.4 2010.4,2764.3 2112.3,2774 2214.2,2783.6 2316.1,2789.8" fill="none" stroke="#FF0000" stroke-width="4.3" stroke-linejoin="round" stroke-dasharray="6.8 15.3" clip-path="url(#cb)"/>
<polygon points="298.48,1794.05 320.98,1823.8 298.48,1853.55 275.98,1823.8" fill="#FF0000"/>
<polygon points="380,2181.65 402.5,2211.4 380,2241.15 357.5,2211.4" fill="#FF0000"/>
<polygon points="481.9,2372.95 504.4,2402.7 481.9,2432.45 459.4,2402.7" fill="#FF0000"/>
<polygon points="583.8,2469.75 606.3,2499.5 583.8,2529.25 561.3,2499.5" fill="#FF0000"/>
<polygon points="685.7,2508.75 708.2,2538.5 685.7,2568.25 663.2,2538.5" fill="#FF0000"/>
<polygon points="787.6,2554.15 810.1,2583.9 787.6,2613.65 765.1,2583.9" fill="#FF0000"/>
<polygon points="889.5,2557.95 912,2587.7 889.5,2617.45 867,2587.7" fill="#FF0000"/>
<polygon points="991.4,2594.55 1013.9,2624.3 991.4,2654.05 968.9,2624.3" fill="#FF0000"/>
<polygon points="1093.3,2601.25 1115.8,2631 1093.3,2660.75 1070.8,2631" fill="#FF0000"/>
<polygon points="1195.2,2632.25 1217.7,2662 1195.2,2691.75 1172.7,2662" fill="#FF0000"/>
<polygon points="1297.1,2636.25 1319.6,2666 1297.1,2695.75 1274.6,2666" fill="#FF0000"/>
<polygon points="1399,2665.85 1421.5,2695.6 1399,2725.35 1376.5,2695.6" fill="#FF0000"/>
<polygon points="1500.9,2674.05 1523.4,2703.8 1500.9,2733.55 1478.4,2703.8" fill="#FF0000"/>
<polygon points="1602.8,2687.85 1625.3,2717.6 1602.8,2747.35 1580.3,2717.6" fill="#FF0000"/>
<polygon points="1704.7,2707.05 1727.2,2736.8 1704.7,2766.55 1682.2,2736.8" fill="#FF0000"/>
<polygon points="1806.6,2713.25 1829.1,2743 1806.6,2772.75 1784.1,2743" fill="#FF0000"/>
<polygon points="1908.5,2725.65 1931,2755.4 1908.5,2785.15 1886,2755.4" fill="#FF0000"/>
<polygon points="2010.4,2734.55 2032.9,2764.3 2010.4,2794.05 1987.9,2764.3" fill="#FF0000"/>
<polygon points="2112.3,2744.25 2134.8,2774 2112.3,2803.75 2089.8,2774" fill="#FF0000"/>
<polygon points="2214.2,2753.85 2236.7,2783.6 2214.2,2813.35 2191.7,2783.6" fill="#FF0000"/>
<polygon points="2316.1,2760.05 2338.6,2789.8 2316.1,2819.55 2293.6,2789.8" fill="#FF0000"/>
<polyline points="298.48,2289.2 380,2645.4 481.9,2779.8 583.8,2839.7 685.7,2889.2 787.6,2900.3 889.5,2931.4 991.4,2939.9 1093.3,2950.4 1195.2,2960.5 1297.1,2970.6 1399,2975.5 1500.9,2974 1602.8,2984 1704.7,2985 1806.6,2986 1908.5,2990 2010.4,2992 2112.3,2992 2214.2,2992 2316.1,2992 2337,2994.5" fill="none" stroke="#0000FF" stroke-width="4.3" stroke-linejoin="round" stroke-dasharray="6.8 15.3" clip-path="url(#cb)"/>
<polygon points="271.48,2273.7 325.48,2273.7 298.48,2320.2" fill="#0000FF"/>
<polygon points="353,2629.9 407,2629.9 380,2676.4" fill="#0000FF"/>
<polygon points="454.9,2764.3 508.9,2764.3 481.9,2810.8" fill="#0000FF"/>
<polygon points="556.8,2824.2 610.8,2824.2 583.8,2870.7" fill="#0000FF"/>
<polygon points="658.7,2873.7 712.7,2873.7 685.7,2920.2" fill="#0000FF"/>
<polygon points="760.6,2884.8 814.6,2884.8 787.6,2931.3" fill="#0000FF"/>
<polygon points="862.5,2915.9 916.5,2915.9 889.5,2962.4" fill="#0000FF"/>
<polygon points="964.4,2924.4 1018.4,2924.4 991.4,2970.9" fill="#0000FF"/>
<polygon points="1066.3,2934.9 1120.3,2934.9 1093.3,2981.4" fill="#0000FF"/>
<polygon points="1168.2,2945 1222.2,2945 1195.2,2991.5" fill="#0000FF"/>
<polygon points="1270.1,2955.1 1324.1,2955.1 1297.1,3001.6" fill="#0000FF"/>
<polygon points="1372,2960 1426,2960 1399,3006.5" fill="#0000FF"/>
<polygon points="1473.9,2958.5 1527.9,2958.5 1500.9,3005" fill="#0000FF"/>
<polygon points="1575.8,2968.5 1629.8,2968.5 1602.8,3015" fill="#0000FF"/>
<polygon points="1677.7,2969.5 1731.7,2969.5 1704.7,3016" fill="#0000FF"/>
<polygon points="1779.6,2970.5 1833.6,2970.5 1806.6,3017" fill="#0000FF"/>
<polygon points="1881.5,2974.5 1935.5,2974.5 1908.5,3021" fill="#0000FF"/>
<polygon points="1983.4,2976.5 2037.4,2976.5 2010.4,3023" fill="#0000FF"/>
<polygon points="2085.3,2976.5 2139.3,2976.5 2112.3,3023" fill="#0000FF"/>
<polygon points="2187.2,2976.5 2241.2,2976.5 2214.2,3023" fill="#0000FF"/>
<polygon points="2289.1,2976.5 2343.1,2976.5 2316.1,3023" fill="#0000FF"/>
<polyline points="298.48,2377.4 380,2735.2 481.9,2877.8 583.8,2925.5 685.7,2953.4 787.6,2962 889.5,2981 991.4,2984.5 1093.3,2990 1195.2,2989.5 1297.1,2996 1399,2991 1500.9,2990 1602.8,2993 1704.7,2995 1806.6,2996 1908.5,3000 2010.4,3001 2112.3,3002 2214.2,3002 2316.1,3002 2337,3002" fill="none" stroke="#000000" stroke-width="4.3" stroke-linejoin="round" stroke-dasharray="6.8 15.3" clip-path="url(#cb)"/>
<polygon points="298.48,2346.4 325.48,2392.9 271.48,2392.9" fill="#000000"/>
<polygon points="380,2704.2 407,2750.7 353,2750.7" fill="#000000"/>
<polygon points="481.9,2846.8 508.9,2893.3 454.9,2893.3" fill="#000000"/>
<polygon points="583.8,2894.5 610.8,2941 556.8,2941" fill="#000000"/>
<polygon points="685.7,2922.4 712.7,2968.9 658.7,2968.9" fill="#000000"/>
<polygon points="787.6,2931 814.6,2977.5 760.6,2977.5" fill="#000000"/>
<polygon points="889.5,2950 916.5,2996.5 862.5,2996.5" fill="#000000"/>
<polygon points="991.4,2953.5 1018.4,3000 964.4,3000" fill="#000000"/>
<polygon points="1093.3,2959 1120.3,3005.5 1066.3,3005.5" fill="#000000"/>
<polygon points="1195.2,2958.5 1222.2,3005 1168.2,3005" fill="#000000"/>
<polygon points="1297.1,2965 1324.1,3011.5 1270.1,3011.5" fill="#000000"/>
<polygon points="1399,2960 1426,3006.5 1372,3006.5" fill="#000000"/>
<polygon points="1500.9,2959 1527.9,3005.5 1473.9,3005.5" fill="#000000"/>
<polygon points="1602.8,2962 1629.8,3008.5 1575.8,3008.5" fill="#000000"/>
<polygon points="1704.7,2964 1731.7,3010.5 1677.7,3010.5" fill="#000000"/>
<polygon points="1806.6,2965 1833.6,3011.5 1779.6,3011.5" fill="#000000"/>
<polygon points="1908.5,2969 1935.5,3015.5 1881.5,3015.5" fill="#000000"/>
<polygon points="2010.4,2970 2037.4,3016.5 1983.4,3016.5" fill="#000000"/>
<polygon points="2112.3,2971 2139.3,3017.5 2085.3,3017.5" fill="#000000"/>
<polygon points="2214.2,2971 2241.2,3017.5 2187.2,3017.5" fill="#000000"/>
<polygon points="2316.1,2971 2343.1,3017.5 2289.1,3017.5" fill="#000000"/>
<polyline points="298.48,2151.2 380,2519.2 481.9,2664.8 583.8,2744.8 685.7,2795 787.6,2841.6 889.5,2856.4 991.4,2878.6 1093.3,2896.8 1195.2,2914 1297.1,2925.5 1399,2930 1500.9,2944.5 1602.8,2954 1704.7,2956 1806.6,2964 1908.5,2972 2010.4,2975 2112.3,2983 2214.2,2998 2316.1,3007 2337,3006" fill="none" stroke="#008000" stroke-width="4.3" stroke-linejoin="round" clip-path="url(#cb)"/>
<path d="M278.48 2131.2 L318.48 2131.2 L318.48 2171.2 L278.48 2171.2 Z M284.78 2137.5 L312.18 2137.5 L312.18 2164.9 L284.78 2164.9 Z" fill="#008000" fill-rule="evenodd"/>
<path d="M360 2499.2 L400 2499.2 L400 2539.2 L360 2539.2 Z M366.3 2505.5 L393.7 2505.5 L393.7 2532.9 L366.3 2532.9 Z" fill="#008000" fill-rule="evenodd"/>
<path d="M461.9 2644.8 L501.9 2644.8 L501.9 2684.8 L461.9 2684.8 Z M468.2 2651.1 L495.6 2651.1 L495.6 2678.5 L468.2 2678.5 Z" fill="#008000" fill-rule="evenodd"/>
<path d="M563.8 2724.8 L603.8 2724.8 L603.8 2764.8 L563.8 2764.8 Z M570.1 2731.1 L597.5 2731.1 L597.5 2758.5 L570.1 2758.5 Z" fill="#008000" fill-rule="evenodd"/>
<path d="M665.7 2775 L705.7 2775 L705.7 2815 L665.7 2815 Z M672 2781.3 L699.4 2781.3 L699.4 2808.7 L672 2808.7 Z" fill="#008000" fill-rule="evenodd"/>
<path d="M767.6 2821.6 L807.6 2821.6 L807.6 2861.6 L767.6 2861.6 Z M773.9 2827.9 L801.3 2827.9 L801.3 2855.3 L773.9 2855.3 Z" fill="#008000" fill-rule="evenodd"/>
<path d="M869.5 2836.4 L909.5 2836.4 L909.5 2876.4 L869.5 2876.4 Z M875.8 2842.7 L903.2 2842.7 L903.2 2870.1 L875.8 2870.1 Z" fill="#008000" fill-rule="evenodd"/>
<path d="M971.4 2858.6 L1011.4 2858.6 L1011.4 2898.6 L971.4 2898.6 Z M977.7 2864.9 L1005.1 2864.9 L1005.1 2892.3 L977.7 2892.3 Z" fill="#008000" fill-rule="evenodd"/>
<path d="M1073.3 2876.8 L1113.3 2876.8 L1113.3 2916.8 L1073.3 2916.8 Z M1079.6 2883.1 L1107 2883.1 L1107 2910.5 L1079.6 2910.5 Z" fill="#008000" fill-rule="evenodd"/>
<path d="M1175.2 2894 L1215.2 2894 L1215.2 2934 L1175.2 2934 Z M1181.5 2900.3 L1208.9 2900.3 L1208.9 2927.7 L1181.5 2927.7 Z" fill="#008000" fill-rule="evenodd"/>
<path d="M1277.1 2905.5 L1317.1 2905.5 L1317.1 2945.5 L1277.1 2945.5 Z M1283.4 2911.8 L1310.8 2911.8 L1310.8 2939.2 L1283.4 2939.2 Z" fill="#008000" fill-rule="evenodd"/>
<path d="M1379 2910 L1419 2910 L1419 2950 L1379 2950 Z M1385.3 2916.3 L1412.7 2916.3 L1412.7 2943.7 L1385.3 2943.7 Z" fill="#008000" fill-rule="evenodd"/>
<path d="M1480.9 2924.5 L1520.9 2924.5 L1520.9 2964.5 L1480.9 2964.5 Z M1487.2 2930.8 L1514.6 2930.8 L1514.6 2958.2 L1487.2 2958.2 Z" fill="#008000" fill-rule="evenodd"/>
<path d="M1582.8 2934 L1622.8 2934 L1622.8 2974 L1582.8 2974 Z M1589.1 2940.3 L1616.5 2940.3 L1616.5 2967.7 L1589.1 2967.7 Z" fill="#008000" fill-rule="evenodd"/>
<path d="M1684.7 2936 L1724.7 2936 L1724.7 2976 L1684.7 2976 Z M1691 2942.3 L1718.4 2942.3 L1718.4 2969.7 L1691 2969.7 Z" fill="#008000" fill-rule="evenodd"/>
<path d="M1786.6 2944 L1826.6 2944 L1826.6 2984 L1786.6 2984 Z M1792.9 2950.3 L1820.3 2950.3 L1820.3 2977.7 L1792.9 2977.7 Z" fill="#008000" fill-rule="evenodd"/>
<path d="M1888.5 2952 L1928.5 2952 L1928.5 2992 L1888.5 2992 Z M1894.8 2958.3 L1922.2 2958.3 L1922.2 2985.7 L1894.8 2985.7 Z" fill="#008000" fill-rule="evenodd"/>
<path d="M1990.4 2955 L2030.4 2955 L2030.4 2995 L1990.4 2995 Z M1996.7 2961.3 L2024.1 2961.3 L2024.1 2988.7 L1996.7 2988.7 Z" fill="#008000" fill-rule="evenodd"/>
<path d="M2092.3 2963 L2132.3 2963 L2132.3 3003 L2092.3 3003 Z M2098.6 2969.3 L2126 2969.3 L2126 2996.7 L2098.6 2996.7 Z" fill="#008000" fill-rule="evenodd"/>
<path d="M2194.2 2978 L2234.2 2978 L2234.2 3018 L2194.2 3018 Z M2200.5 2984.3 L2227.9 2984.3 L2227.9 3011.7 L2200.5 3011.7 Z" fill="#008000" fill-rule="evenodd"/>
<path d="M2296.1 2987 L2336.1 2987 L2336.1 3027 L2296.1 3027 Z M2302.4 2993.3 L2329.8 2993.3 L2329.8 3020.7 L2302.4 3020.7 Z" fill="#008000" fill-rule="evenodd"/>
<polyline points="298.48,2657.7 380,2899.4 481.9,2948 583.8,2986 685.7,2979.4 787.6,3001 889.5,3013.8 991.4,3010 1093.3,3020.2 1195.2,3020.5 1297.1,3018 1399,3027.3 1500.9,3027.5 1602.8,3030 1704.7,3032.5 1806.6,3035 1908.5,3035.6 2010.4,3035 2112.3,3037.8 2214.2,3037 2316.1,3039.8" fill="none" stroke="#FF0000" stroke-width="4.3" stroke-linejoin="round" clip-path="url(#cb)"/>
<path d="M298.48 2627.95 L320.23 2657.7 L298.48 2687.45 L276.73 2657.7 Z M298.48 2638.62 L312.43 2657.7 L298.48 2676.78 L284.53 2657.7 Z" fill="#FF0000" fill-rule="evenodd"/>
<path d="M380 2869.65 L401.75 2899.4 L380 2929.15 L358.25 2899.4 Z M380 2880.32 L393.95 2899.4 L380 2918.48 L366.05 2899.4 Z" fill="#FF0000" fill-rule="evenodd"/>
<path d="M481.9 2918.25 L503.65 2948 L481.9 2977.75 L460.15 2948 Z M481.9 2928.92 L495.85 2948 L481.9 2967.08 L467.95 2948 Z" fill="#FF0000" fill-rule="evenodd"/>
<path d="M583.8 2956.25 L605.55 2986 L583.8 3015.75 L562.05 2986 Z M583.8 2966.92 L597.75 2986 L583.8 3005.08 L569.85 2986 Z" fill="#FF0000" fill-rule="evenodd"/>
<path d="M685.7 2949.65 L707.45 2979.4 L685.7 3009.15 L663.95 2979.4 Z M685.7 2960.32 L699.65 2979.4 L685.7 2998.48 L671.75 2979.4 Z" fill="#FF0000" fill-rule="evenodd"/>
<path d="M787.6 2971.25 L809.35 3001 L787.6 3030.75 L765.85 3001 Z M787.6 2981.92 L801.55 3001 L787.6 3020.08 L773.65 3001 Z" fill="#FF0000" fill-rule="evenodd"/>
<path d="M889.5 2984.05 L911.25 3013.8 L889.5 3043.55 L867.75 3013.8 Z M889.5 2994.72 L903.45 3013.8 L889.5 3032.88 L875.55 3013.8 Z" fill="#FF0000" fill-rule="evenodd"/>
<path d="M991.4 2980.25 L1013.15 3010 L991.4 3039.75 L969.65 3010 Z M991.4 2990.92 L1005.35 3010 L991.4 3029.08 L977.45 3010 Z" fill="#FF0000" fill-rule="evenodd"/>
<path d="M1093.3 2990.45 L1115.05 3020.2 L1093.3 3049.95 L1071.55 3020.2 Z M1093.3 3001.12 L1107.25 3020.2 L1093.3 3039.28 L1079.35 3020.2 Z" fill="#FF0000" fill-rule="evenodd"/>
<path d="M1195.2 2990.75 L1216.95 3020.5 L1195.2 3050.25 L1173.45 3020.5 Z M1195.2 3001.42 L1209.15 3020.5 L1195.2 3039.58 L1181.25 3020.5 Z" fill="#FF0000" fill-rule="evenodd"/>
<path d="M1297.1 2988.25 L1318.85 3018 L1297.1 3047.75 L1275.35 3018 Z M1297.1 2998.92 L1311.05 3018 L1297.1 3037.08 L1283.15 3018 Z" fill="#FF0000" fill-rule="evenodd"/>
<path d="M1399 2997.55 L1420.75 3027.3 L1399 3057.05 L1377.25 3027.3 Z M1399 3008.22 L1412.95 3027.3 L1399 3046.38 L1385.05 3027.3 Z" fill="#FF0000" fill-rule="evenodd"/>
<path d="M1500.9 2997.75 L1522.65 3027.5 L1500.9 3057.25 L1479.15 3027.5 Z M1500.9 3008.42 L1514.85 3027.5 L1500.9 3046.58 L1486.95 3027.5 Z" fill="#FF0000" fill-rule="evenodd"/>
<path d="M1602.8 3000.25 L1624.55 3030 L1602.8 3059.75 L1581.05 3030 Z M1602.8 3010.92 L1616.75 3030 L1602.8 3049.08 L1588.85 3030 Z" fill="#FF0000" fill-rule="evenodd"/>
<path d="M1704.7 3002.75 L1726.45 3032.5 L1704.7 3062.25 L1682.95 3032.5 Z M1704.7 3013.42 L1718.65 3032.5 L1704.7 3051.58 L1690.75 3032.5 Z" fill="#FF0000" fill-rule="evenodd"/>
<path d="M1806.6 3005.25 L1828.35 3035 L1806.6 3064.75 L1784.85 3035 Z M1806.6 3015.92 L1820.55 3035 L1806.6 3054.08 L1792.65 3035 Z" fill="#FF0000" fill-rule="evenodd"/>
<path d="M1908.5 3005.85 L1930.25 3035.6 L1908.5 3065.35 L1886.75 3035.6 Z M1908.5 3016.52 L1922.45 3035.6 L1908.5 3054.68 L1894.55 3035.6 Z" fill="#FF0000" fill-rule="evenodd"/>
<path d="M2010.4 3005.25 L2032.15 3035 L2010.4 3064.75 L1988.65 3035 Z M2010.4 3015.92 L2024.35 3035 L2010.4 3054.08 L1996.45 3035 Z" fill="#FF0000" fill-rule="evenodd"/>
<path d="M2112.3 3008.05 L2134.05 3037.8 L2112.3 3067.55 L2090.55 3037.8 Z M2112.3 3018.72 L2126.25 3037.8 L2112.3 3056.88 L2098.35 3037.8 Z" fill="#FF0000" fill-rule="evenodd"/>
<path d="M2214.2 3007.25 L2235.95 3037 L2214.2 3066.75 L2192.45 3037 Z M2214.2 3017.92 L2228.15 3037 L2214.2 3056.08 L2200.25 3037 Z" fill="#FF0000" fill-rule="evenodd"/>
<path d="M2316.1 3010.05 L2337.85 3039.8 L2316.1 3069.55 L2294.35 3039.8 Z M2316.1 3020.72 L2330.05 3039.8 L2316.1 3058.88 L2302.15 3039.8 Z" fill="#FF0000" fill-rule="evenodd"/>
<polyline points="298.48,2562.5 380,2828.5 481.9,2888.3 583.8,2942 685.7,2964.5 787.6,2964.8 889.5,2973.9 991.4,2978.4 1093.3,2976.1 1195.2,2974 1297.1,2974 1399,2974 1500.9,2975.6 1602.8,2978 1704.7,2977.3 1806.6,2972.3 1908.5,2970 2010.4,2970.6 2112.3,2973.5 2214.2,2970.6 2316.1,2975.9 2337,2972.2" fill="none" stroke="#0000FF" stroke-width="4.3" stroke-linejoin="round" clip-path="url(#cb)"/>
<path d="M271.48 2547 L325.48 2547 L298.48 2593.5 Z M282.42 2553.3 L314.54 2553.3 L298.48 2580.95 Z" fill="#0000FF" fill-rule="evenodd"/>
<path d="M353 2813 L407 2813 L380 2859.5 Z M363.94 2819.3 L396.06 2819.3 L380 2846.95 Z" fill="#0000FF" fill-rule="evenodd"/>
<path d="M454.9 2872.8 L508.9 2872.8 L481.9 2919.3 Z M465.84 2879.1 L497.96 2879.1 L481.9 2906.75 Z" fill="#0000FF" fill-rule="evenodd"/>
<path d="M556.8 2926.5 L610.8 2926.5 L583.8 2973 Z M567.74 2932.8 L599.86 2932.8 L583.8 2960.45 Z" fill="#0000FF" fill-rule="evenodd"/>
<path d="M658.7 2949 L712.7 2949 L685.7 2995.5 Z M669.64 2955.3 L701.76 2955.3 L685.7 2982.95 Z" fill="#0000FF" fill-rule="evenodd"/>
<path d="M760.6 2949.3 L814.6 2949.3 L787.6 2995.8 Z M771.54 2955.6 L803.66 2955.6 L787.6 2983.25 Z" fill="#0000FF" fill-rule="evenodd"/>
<path d="M862.5 2958.4 L916.5 2958.4 L889.5 3004.9 Z M873.44 2964.7 L905.56 2964.7 L889.5 2992.35 Z" fill="#0000FF" fill-rule="evenodd"/>
<path d="M964.4 2962.9 L1018.4 2962.9 L991.4 3009.4 Z M975.34 2969.2 L1007.46 2969.2 L991.4 2996.85 Z" fill="#0000FF" fill-rule="evenodd"/>
<path d="M1066.3 2960.6 L1120.3 2960.6 L1093.3 3007.1 Z M1077.24 2966.9 L1109.36 2966.9 L1093.3 2994.55 Z" fill="#0000FF" fill-rule="evenodd"/>
<path d="M1168.2 2958.5 L1222.2 2958.5 L1195.2 3005 Z M1179.14 2964.8 L1211.26 2964.8 L1195.2 2992.45 Z" fill="#0000FF" fill-rule="evenodd"/>
<path d="M1270.1 2958.5 L1324.1 2958.5 L1297.1 3005 Z M1281.04 2964.8 L1313.16 2964.8 L1297.1 2992.45 Z" fill="#0000FF" fill-rule="evenodd"/>
<path d="M1372 2958.5 L1426 2958.5 L1399 3005 Z M1382.94 2964.8 L1415.06 2964.8 L1399 2992.45 Z" fill="#0000FF" fill-rule="evenodd"/>
<path d="M1473.9 2960.1 L1527.9 2960.1 L1500.9 3006.6 Z M1484.84 2966.4 L1516.96 2966.4 L1500.9 2994.05 Z" fill="#0000FF" fill-rule="evenodd"/>
<path d="M1575.8 2962.5 L1629.8 2962.5 L1602.8 3009 Z M1586.74 2968.8 L1618.86 2968.8 L1602.8 2996.45 Z" fill="#0000FF" fill-rule="evenodd"/>
<path d="M1677.7 2961.8 L1731.7 2961.8 L1704.7 3008.3 Z M1688.64 2968.1 L1720.76 2968.1 L1704.7 2995.75 Z" fill="#0000FF" fill-rule="evenodd"/>
<path d="M1779.6 2956.8 L1833.6 2956.8 L1806.6 3003.3 Z M1790.54 2963.1 L1822.66 2963.1 L1806.6 2990.75 Z" fill="#0000FF" fill-rule="evenodd"/>
<path d="M1881.5 2954.5 L1935.5 2954.5 L1908.5 3001 Z M1892.44 2960.8 L1924.56 2960.8 L1908.5 2988.45 Z" fill="#0000FF" fill-rule="evenodd"/>
<path d="M1983.4 2955.1 L2037.4 2955.1 L2010.4 3001.6 Z M1994.34 2961.4 L2026.46 2961.4 L2010.4 2989.05 Z" fill="#0000FF" fill-rule="evenodd"/>
<path d="M2085.3 2958 L2139.3 2958 L2112.3 3004.5 Z M2096.24 2964.3 L2128.36 2964.3 L2112.3 2991.95 Z" fill="#0000FF" fill-rule="evenodd"/>
<path d="M2187.2 2955.1 L2241.2 2955.1 L2214.2 3001.6 Z M2198.14 2961.4 L2230.26 2961.4 L2214.2 2989.05 Z" fill="#0000FF" fill-rule="evenodd"/>
<path d="M2289.1 2960.4 L2343.1 2960.4 L2316.1 3006.9 Z M2300.04 2966.7 L2332.16 2966.7 L2316.1 2994.35 Z" fill="#0000FF" fill-rule="evenodd"/>
<polyline points="298.48,2589.7 380,2843.4 481.9,2906 583.8,2926.3 685.7,2967.5 787.6,2963 889.5,2970.5 991.4,2978.5 1093.3,2979.3 1195.2,2984 1297.1,2986.5 1399,2986 1500.9,2987.5 1602.8,2988 1704.7,2988 1806.6,2988 1908.5,2988 2010.4,2988 2112.3,2988 2214.2,2988 2316.1,2989 2337,2991" fill="none" stroke="#000000" stroke-width="4.3" stroke-linejoin="round" clip-path="url(#cb)"/>
<path d="M298.48 2558.7 L325.48 2605.2 L271.48 2605.2 Z M298.48 2571.25 L314.54 2598.9 L282.42 2598.9 Z" fill="#000000" fill-rule="evenodd"/>
<path d="M380 2812.4 L407 2858.9 L353 2858.9 Z M380 2824.95 L396.06 2852.6 L363.94 2852.6 Z" fill="#000000" fill-rule="evenodd"/>
<path d="M481.9 2875 L508.9 2921.5 L454.9 2921.5 Z M481.9 2887.55 L497.96 2915.2 L465.84 2915.2 Z" fill="#000000" fill-rule="evenodd"/>
<path d="M583.8 2895.3 L610.8 2941.8 L556.8 2941.8 Z M583.8 2907.85 L599.86 2935.5 L567.74 2935.5 Z" fill="#000000" fill-rule="evenodd"/>
<path d="M685.7 2936.5 L712.7 2983 L658.7 2983 Z M685.7 2949.05 L701.76 2976.7 L669.64 2976.7 Z" fill="#000000" fill-rule="evenodd"/>
<path d="M787.6 2932 L814.6 2978.5 L760.6 2978.5 Z M787.6 2944.55 L803.66 2972.2 L771.54 2972.2 Z" fill="#000000" fill-rule="evenodd"/>
<path d="M889.5 2939.5 L916.5 2986 L862.5 2986 Z M889.5 2952.05 L905.56 2979.7 L873.44 2979.7 Z" fill="#000000" fill-rule="evenodd"/>
<path d="M991.4 2947.5 L1018.4 2994 L964.4 2994 Z M991.4 2960.05 L1007.46 2987.7 L975.34 2987.7 Z" fill="#000000" fill-rule="evenodd"/>
<path d="M1093.3 2948.3 L1120.3 2994.8 L1066.3 2994.8 Z M1093.3 2960.85 L1109.36 2988.5 L1077.24 2988.5 Z" fill="#000000" fill-rule="evenodd"/>
<path d="M1195.2 2953 L1222.2 2999.5 L1168.2 2999.5 Z M1195.2 2965.55 L1211.26 2993.2 L1179.14 2993.2 Z" fill="#000000" fill-rule="evenodd"/>
<path d="M1297.1 2955.5 L1324.1 3002 L1270.1 3002 Z M1297.1 2968.05 L1313.16 2995.7 L1281.04 2995.7 Z" fill="#000000" fill-rule="evenodd"/>
<path d="M1399 2955 L1426 3001.5 L1372 3001.5 Z M1399 2967.55 L1415.06 2995.2 L1382.94 2995.2 Z" fill="#000000" fill-rule="evenodd"/>
<path d="M1500.9 2956.5 L1527.9 3003 L1473.9 3003 Z M1500.9 2969.05 L1516.96 2996.7 L1484.84 2996.7 Z" fill="#000000" fill-rule="evenodd"/>
<path d="M1602.8 2957 L1629.8 3003.5 L1575.8 3003.5 Z M1602.8 2969.55 L1618.86 2997.2 L1586.74 2997.2 Z" fill="#000000" fill-rule="evenodd"/>
<path d="M1704.7 2957 L1731.7 3003.5 L1677.7 3003.5 Z M1704.7 2969.55 L1720.76 2997.2 L1688.64 2997.2 Z" fill="#000000" fill-rule="evenodd"/>
<path d="M1806.6 2957 L1833.6 3003.5 L1779.6 3003.5 Z M1806.6 2969.55 L1822.66 2997.2 L1790.54 2997.2 Z" fill="#000000" fill-rule="evenodd"/>
<path d="M1908.5 2957 L1935.5 3003.5 L1881.5 3003.5 Z M1908.5 2969.55 L1924.56 2997.2 L1892.44 2997.2 Z" fill="#000000" fill-rule="evenodd"/>
<path d="M2010.4 2957 L2037.4 3003.5 L1983.4 3003.5 Z M2010.4 2969.55 L2026.46 2997.2 L1994.34 2997.2 Z" fill="#000000" fill-rule="evenodd"/>
<path d="M2112.3 2957 L2139.3 3003.5 L2085.3 3003.5 Z M2112.3 2969.55 L2128.36 2997.2 L2096.24 2997.2 Z" fill="#000000" fill-rule="evenodd"/>
<path d="M2214.2 2957 L2241.2 3003.5 L2187.2 3003.5 Z M2214.2 2969.55 L2230.26 2997.2 L2198.14 2997.2 Z" fill="#000000" fill-rule="evenodd"/>
<path d="M2316.1 2958 L2343.1 3004.5 L2289.1 3004.5 Z M2316.1 2970.55 L2332.16 2998.2 L2300.04 2998.2 Z" fill="#000000" fill-rule="evenodd"/>
<path d="M258 1781.91 V3108.3 M256 3106.2 H2339" stroke="#262626" stroke-width="4" fill="none"/>
<path d="M258 2945.51 h12.9 M258 2851.51 h12.9 M258 2784.82 h12.9 M258 2733.09 h12.9 M258 2690.82 h12.9 M258 2655.09 h12.9 M258 2624.13 h12.9 M258 2596.83 h12.9 M258 2411.71 h12.9 M258 2317.71 h12.9 M258 2251.02 h12.9 M258 2199.29 h12.9 M258 2157.02 h12.9 M258 2121.29 h12.9 M258 2090.33 h12.9 M258 2063.03 h12.9 M258 1877.91 h12.9 M258 1783.91 h12.9 M258 2572.4 h22.4 M258 2038.6 h22.4 M278.1 3106.2 v-23 M481.9 3106.2 v-23 M685.7 3106.2 v-23 M889.5 3106.2 v-23 M1093.3 3106.2 v-23 M1297.1 3106.2 v-23 M1500.9 3106.2 v-23 M1704.7 3106.2 v-23 M1908.5 3106.2 v-23 M2112.3 3106.2 v-23 M2316.1 3106.2 v-23" stroke="#262626" stroke-width="4" fill="none"/>
<text x="120.4" y="2077.6" font-family="'Liberation Serif', 'Times New Roman', serif" font-size="74" fill="#262626">10</text><text x="195.6" y="2044.1" font-family="'Liberation Serif', 'Times New Roman', serif" font-size="63" fill="#262626">2</text>
<text x="120.4" y="2611.4" font-family="'Liberation Serif', 'Times New Roman', serif" font-size="74" fill="#262626">10</text><text x="195.6" y="2577.9" font-family="'Liberation Serif', 'Times New Roman', serif" font-size="63" fill="#262626">1</text>
<text x="120.4" y="3145.2" font-family="'Liberation Serif', 'Times New Roman', serif" font-size="74" fill="#262626">10</text><text x="195.6" y="3111.7" font-family="'Liberation Serif', 'Times New Roman', serif" font-size="63" fill="#262626">0</text>
<text x="278.1" y="3208.5" font-family="'Liberation Serif', 'Times New Roman', serif" font-size="74" fill="#262626" text-anchor="middle">0</text>
<text x="481.9" y="3208.5" font-family="'Liberation Serif', 'Times New Roman', serif" font-size="74" fill="#262626" text-anchor="middle">10</text>
<text x="685.7" y="3208.5" font-family="'Liberation Serif', 'Times New Roman', serif" font-size="74" fill="#262626" text-anchor="middle">20</text>
<text x="889.5" y="3208.5" font-family="'Liberation Serif', 'Times New Roman', serif" font-size="74" fill="#262626" text-anchor="middle">30</text>
<text x="1093.3" y="3208.5" font-family="'Liberation Serif', 'Times New Roman', serif" font-size="74" fill="#262626" text-anchor="middle">40</text>
<text x="1297.1" y="3208.5" font-family="'Liberation Serif', 'Times New Roman', serif" font-size="74" fill="#262626" text-anchor="middle">50</text>
<text x="1500.9" y="3208.5" font-family="'Liberation Serif', 'Times New Roman', serif" font-size="74" fill="#262626" text-anchor="middle">60</text>
<text x="1704.7" y="3208.5" font-family="'Liberation Serif', 'Times New Roman', serif" font-size="74" fill="#262626" text-anchor="middle">70</text>
<text x="1908.5" y="3208.5" font-family="'Liberation Serif', 'Times New Roman', serif" font-size="74" fill="#262626" text-anchor="middle">80</text>
<text x="2112.3" y="3208.5" font-family="'Liberation Serif', 'Times New Roman', serif" font-size="74" fill="#262626" text-anchor="middle">90</text>
<text x="2316.1" y="3208.5" font-family="'Liberation Serif', 'Times New Roman', serif" font-size="74" fill="#262626" text-anchor="middle">100</text>
<text transform="translate(85.89 558.41) rotate(-90) scale(0.6692 0.8100)" font-family="'Liberation Serif', 'Times New Roman', serif" font-size="100" fill="#000">)</text>
<text transform="translate(85 593.12) rotate(-90) scale(0.8116 0.7000)" font-family="'Liberation Serif', 'Times New Roman', serif" font-size="100" fill="#000" font-style="italic">s</text>
<text transform="translate(92 635.41) rotate(-90) scale(0.7826 0.7739)" font-family="'Liberation Serif', 'Times New Roman', serif" font-size="100" fill="#000">·</text>
<text transform="translate(85.4 688.44) rotate(-90) scale(0.7814 0.7000)" font-family="'Liberation Serif', 'Times New Roman', serif" font-size="100" fill="#000" font-style="italic">a</text>
<text transform="translate(85.5 745.05) rotate(-90) scale(0.9051 0.7679)" font-family="'Liberation Serif', 'Times New Roman', serif" font-size="100" fill="#000" font-style="italic">P</text>
<text transform="translate(85.86 814.18) rotate(-90) scale(0.9364 0.7226)" font-family="'Liberation Serif', 'Times New Roman', serif" font-size="100" fill="#000" font-style="italic">m</text>
<text transform="translate(85.89 837.65) rotate(-90) scale(0.6784 0.8100)" font-family="'Liberation Serif', 'Times New Roman', serif" font-size="100" fill="#000">(</text>
<text transform="translate(85.6 909.9) rotate(-90) scale(0.8660 0.7284)" font-family="'Liberation Serif', 'Times New Roman', serif" font-size="100" fill="#000" font-style="italic">μ</text>
<text transform="translate(96.54 2189.86) rotate(-90) scale(0.7192 0.8789)" font-family="'Liberation Serif', 'Times New Roman', serif" font-size="100" fill="#000">)</text>
<text transform="translate(95.94 2225.2) rotate(-90) scale(0.8696 0.7625)" font-family="'Liberation Serif', 'Times New Roman', serif" font-size="100" fill="#000" font-style="italic">s</text>
<text transform="translate(103.57 2268.37) rotate(-90) scale(0.8696 0.8435)" font-family="'Liberation Serif', 'Times New Roman', serif" font-size="100" fill="#000">·</text>
<text transform="translate(96.06 2320.85) rotate(-90) scale(0.8512 0.7396)" font-family="'Liberation Serif', 'Times New Roman', serif" font-size="100" fill="#000" font-style="italic">a</text>
<text transform="translate(95.7 2375.84) rotate(-90) scale(0.9288 0.8214)" font-family="'Liberation Serif', 'Times New Roman', serif" font-size="100" fill="#000" font-style="italic">P</text>
<text transform="translate(97.19 2447.55) rotate(-90) scale(0.9845 0.7871)" font-family="'Liberation Serif', 'Times New Roman', serif" font-size="100" fill="#000" font-style="italic">m</text>
<text transform="translate(96.54 2472.53) rotate(-90) scale(0.7843 0.8789)" font-family="'Liberation Serif', 'Times New Roman', serif" font-size="100" fill="#000">(</text>
<text transform="translate(95.66 2543.7) rotate(-90) scale(0.9128 0.7731)" font-family="'Liberation Serif', 'Times New Roman', serif" font-size="100" fill="#000" font-style="italic">μ</text>
<text transform="translate(1192.28 1559.67) scale(0.8283 0.7203)" font-family="'Liberation Serif', 'Times New Roman', serif" font-size="100" fill="#000" font-style="italic">γ</text>
<text transform="translate(1198.24 1565.31) scale(0.7619 0.8381)" font-family="'Liberation Serif', 'Times New Roman', serif" font-size="100" fill="#000">˙</text>
<text transform="translate(1260.81 1560.56) scale(0.7098 0.8211)" font-family="'Liberation Serif', 'Times New Roman', serif" font-size="100" fill="#000">(</text>
<text transform="translate(1288.83 1559.31) scale(0.7826 0.6917)" font-family="'Liberation Serif', 'Times New Roman', serif" font-size="100" fill="#000" font-style="italic">s</text>
<text transform="translate(1322.81 1533.88) scale(0.6440 0.5600)" font-family="'Liberation Serif', 'Times New Roman', serif" font-size="100" fill="#000">−</text>
<text transform="translate(1361.37 1528.7) scale(0.5143 0.5298)" font-family="'Liberation Serif', 'Times New Roman', serif" font-size="100" fill="#000">1</text>
<text transform="translate(1393.61 1560.76) scale(0.6962 0.8256)" font-family="'Liberation Serif', 'Times New Roman', serif" font-size="100" fill="#000">)</text>
<text transform="translate(1182.29 3298.65) scale(0.9062 0.7880)" font-family="'Liberation Serif', 'Times New Roman', serif" font-size="100" fill="#000" font-style="italic">γ</text>
<text transform="translate(1187.82 3302.73) scale(0.8762 0.8762)" font-family="'Liberation Serif', 'Times New Roman', serif" font-size="100" fill="#000">˙</text>
<text transform="translate(1252.51 3298.85) scale(0.7529 0.8689)" font-family="'Liberation Serif', 'Times New Roman', serif" font-size="100" fill="#000">(</text>
<text transform="translate(1280.11 3298.45) scale(0.8609 0.7521)" font-family="'Liberation Serif', 'Times New Roman', serif" font-size="100" fill="#000" font-style="italic">s</text>
<text transform="translate(1313.57 3273.3) scale(0.6860 0.6000)" font-family="'Liberation Serif', 'Times New Roman', serif" font-size="100" fill="#000">−</text>
<text transform="translate(1353.15 3267.1) scale(0.5171 0.5221)" font-family="'Liberation Serif', 'Times New Roman', serif" font-size="100" fill="#000">1</text>
<text transform="translate(1385.47 3298.78) scale(0.7769 0.8678)" font-family="'Liberation Serif', 'Times New Roman', serif" font-size="100" fill="#000">)</text>
<text transform="translate(1154.04 1709.33) scale(0.7020 0.7700)" font-family="'Liberation Serif', 'Times New Roman', serif" font-size="100" fill="#000">(</text>
<text transform="translate(1177.69 1709.83) scale(0.7033 0.7432)" font-family="'Liberation Serif', 'Times New Roman', serif" font-size="100" fill="#000" font-weight="bold">a</text>
<text transform="translate(1215.03 1709.33) scale(0.6885 0.7700)" font-family="'Liberation Serif', 'Times New Roman', serif" font-size="100" fill="#000">)</text>
<text transform="translate(1149.61 3458.16) scale(0.7098 0.7733)" font-family="'Liberation Serif', 'Times New Roman', serif" font-size="100" fill="#000">(</text>
<text transform="translate(1177.82 3459.23) scale(0.7180 0.7714)" font-family="'Liberation Serif', 'Times New Roman', serif" font-size="100" fill="#000" font-weight="bold">b</text>
<text transform="translate(1218.51 3458.16) scale(0.6962 0.7733)" font-family="'Liberation Serif', 'Times New Roman', serif" font-size="100" fill="#000">)</text>
<line x1="1062.8" y1="89.8" x2="1287.5" y2="89.8" stroke="#008000" stroke-width="4" stroke-dasharray="6.8 15.3"/>
<polygon points="1160.4,75.3 1189.4,75.3 1189.4,104.3 1160.4,104.3" fill="#008000"/>
<text x="1303" y="117.9" font-family="'Liberation Serif', 'Times New Roman', serif" font-size="74" fill="#000" text-anchor="start">Fresh LF</text>
<line x1="1062.8" y1="181" x2="1287.5" y2="181" stroke="#FF0000" stroke-width="4" stroke-dasharray="6.8 15.3"/>
<polygon points="1174.9,151.25 1197.4,181 1174.9,210.75 1152.4,181" fill="#FF0000"/>
<text x="1303" y="209.2" font-family="'Liberation Serif', 'Times New Roman', serif" font-size="74" fill="#000" text-anchor="start">Fresh RF</text>
<line x1="1062.8" y1="271.6" x2="1287.5" y2="271.6" stroke="#0000FF" stroke-width="4" stroke-dasharray="6.8 15.3"/>
<polygon points="1147.9,256.1 1201.9,256.1 1174.9,302.6" fill="#0000FF"/>
<text x="1303" y="300.4" font-family="'Liberation Serif', 'Times New Roman', serif" font-size="74" fill="#000" text-anchor="start">Fresh LH</text>
<line x1="1062.8" y1="362.6" x2="1287.5" y2="362.6" stroke="#000000" stroke-width="4" stroke-dasharray="6.8 15.3"/>
<polygon points="1174.9,331.6 1201.9,378.1 1147.9,378.1" fill="#000000"/>
<text x="1303" y="391.6" font-family="'Liberation Serif', 'Times New Roman', serif" font-size="74" fill="#000" text-anchor="start">Fresh RH</text>
<line x1="1636" y1="89.8" x2="1858.6" y2="89.8" stroke="#008000" stroke-width="4"/>
<path d="M1733.1 75.3 L1762.1 75.3 L1762.1 104.3 L1733.1 104.3 Z M1739.4 81.6 L1755.8 81.6 L1755.8 98 L1739.4 98 Z" fill="#008000" fill-rule="evenodd"/>
<text x="1874" y="117.9" font-family="'Liberation Serif', 'Times New Roman', serif" font-size="74" fill="#000" text-anchor="start">3 Days old LF</text>
<line x1="1636" y1="181" x2="1858.6" y2="181" stroke="#FF0000" stroke-width="4"/>
<path d="M1747.6 151.25 L1769.35 181 L1747.6 210.75 L1725.85 181 Z M1747.6 161.92 L1761.55 181 L1747.6 200.08 L1733.65 181 Z" fill="#FF0000" fill-rule="evenodd"/>
<text x="1874" y="209.2" font-family="'Liberation Serif', 'Times New Roman', serif" font-size="74" fill="#000" text-anchor="start">3 Days old RF</text>
<line x1="1636" y1="271.6" x2="1858.6" y2="271.6" stroke="#0000FF" stroke-width="4"/>
<path d="M1720.6 256.1 L1774.6 256.1 L1747.6 302.6 Z M1731.54 262.4 L1763.66 262.4 L1747.6 290.05 Z" fill="#0000FF" fill-rule="evenodd"/>
<text x="1874" y="300.4" font-family="'Liberation Serif', 'Times New Roman', serif" font-size="74" fill="#000" text-anchor="start">3 Days old LH</text>
<line x1="1636" y1="362.6" x2="1858.6" y2="362.6" stroke="#000000" stroke-width="4"/>
<path d="M1747.6 331.6 L1774.6 378.1 L1720.6 378.1 Z M1747.6 344.15 L1763.66 371.8 L1731.54 371.8 Z" fill="#000000" fill-rule="evenodd"/>
<text x="1874" y="391.6" font-family="'Liberation Serif', 'Times New Roman', serif" font-size="74" fill="#000" text-anchor="start">3 Days old RH</text>
<line x1="1113" y1="1899.4" x2="1337.1" y2="1899.4" stroke="#008000" stroke-width="4" stroke-dasharray="6.8 15.3"/>
<polygon points="1204.9,1879.4 1244.9,1879.4 1244.9,1919.4 1204.9,1919.4" fill="#008000"/>
<text x="1353.4" y="1928.5" font-family="'Liberation Serif', 'Times New Roman', serif" font-size="74" fill="#000" text-anchor="start">Fresh LF</text>
<line x1="1113" y1="1990.6" x2="1337.1" y2="1990.6" stroke="#FF0000" stroke-width="4" stroke-dasharray="6.8 15.3"/>
<polygon points="1224.9,1960.85 1247.4,1990.6 1224.9,2020.35 1202.4,1990.6" fill="#FF0000"/>
<text x="1353.4" y="2018.6" font-family="'Liberation Serif', 'Times New Roman', serif" font-size="74" fill="#000" text-anchor="start">Fresh RF</text>
<line x1="1113" y1="2081.5" x2="1337.1" y2="2081.5" stroke="#0000FF" stroke-width="4" stroke-dasharray="6.8 15.3"/>
<polygon points="1197.9,2066 1251.9,2066 1224.9,2112.5" fill="#0000FF"/>
<text x="1353.4" y="2110.5" font-family="'Liberation Serif', 'Times New Roman', serif" font-size="74" fill="#000" text-anchor="start">Fresh LH</text>
<line x1="1113" y1="2171.9" x2="1337.1" y2="2171.9" stroke="#000000" stroke-width="4" stroke-dasharray="6.8 15.3"/>
<polygon points="1224.9,2140.9 1251.9,2187.4 1197.9,2187.4" fill="#000000"/>
<text x="1353.4" y="2200.6" font-family="'Liberation Serif', 'Times New Roman', serif" font-size="74" fill="#000" text-anchor="start">Fresh RH</text>
<line x1="1691.4" y1="1899.4" x2="1914.5" y2="1899.4" stroke="#008000" stroke-width="4"/>
<path d="M1782.7 1879.4 L1822.7 1879.4 L1822.7 1919.4 L1782.7 1919.4 Z M1789 1885.7 L1816.4 1885.7 L1816.4 1913.1 L1789 1913.1 Z" fill="#008000" fill-rule="evenodd"/>
<text x="1930.4" y="1928.5" font-family="'Liberation Serif', 'Times New Roman', serif" font-size="74" fill="#000" text-anchor="start">3 Days LF</text>
<line x1="1691.4" y1="1990.6" x2="1914.5" y2="1990.6" stroke="#FF0000" stroke-width="4"/>
<path d="M1802.7 1960.85 L1824.45 1990.6 L1802.7 2020.35 L1780.95 1990.6 Z M1802.7 1971.52 L1816.65 1990.6 L1802.7 2009.68 L1788.75 1990.6 Z" fill="#FF0000" fill-rule="evenodd"/>
<text x="1930.4" y="2018.6" font-family="'Liberation Serif', 'Times New Roman', serif" font-size="74" fill="#000" text-anchor="start">3 Day RF</text>
<line x1="1691.4" y1="2081.5" x2="1914.5" y2="2081.5" stroke="#0000FF" stroke-width="4"/>
<path d="M1775.7 2066 L1829.7 2066 L1802.7 2112.5 Z M1786.64 2072.3 L1818.76 2072.3 L1802.7 2099.95 Z" fill="#0000FF" fill-rule="evenodd"/>
<text x="1930.4" y="2110.5" font-family="'Liberation Serif', 'Times New Roman', serif" font-size="74" fill="#000" text-anchor="start">3 Day LH</text>
<line x1="1691.4" y1="2171.9" x2="1914.5" y2="2171.9" stroke="#000000" stroke-width="4"/>
<path d="M1802.7 2140.9 L1829.7 2187.4 L1775.7 2187.4 Z M1802.7 2153.45 L1818.76 2181.1 L1786.64 2181.1 Z" fill="#000000" fill-rule="evenodd"/>
<text x="1930.4" y="2200.6" font-family="'Liberation Serif', 'Times New Roman', serif" font-size="74" fill="#000" text-anchor="start">3 Day RH</text>
<line x1="613" y1="123.6" x2="374.28" y2="102.2" stroke="#0072BD" stroke-width="4.5"/><polygon points="318.5,97.2 398.69,76.28 374.28,102.2 393.69,132.05" fill="#0072BD"/>
<text x="802" y="108.2" font-family="'Liberation Serif', 'Times New Roman', serif" font-size="62" fill="#0072BD" text-anchor="middle" font-style="italic">Note scale for</text>
<text x="802" y="185.1" font-family="'Liberation Serif', 'Times New Roman', serif" font-size="62" fill="#0072BD" text-anchor="middle" font-style="italic">comparison</text>
<line x1="1992" y1="800" x2="1892.95" y2="1069.87" stroke="#0072BD" stroke-width="4.5"/><polygon points="1874,1121.5 1878.25,1043.17 1892.95,1069.87 1921.43,1059.02" fill="#0072BD"/>
<line x1="1996" y1="802" x2="1982.64" y2="959.8" stroke="#0072BD" stroke-width="4.5"/><polygon points="1978,1014.6 1961.41,937.93 1982.64,959.8 2007.25,941.81" fill="#0072BD"/>
<text x="1990" y="705.5" font-family="'Liberation Serif', 'Times New Roman', serif" font-size="62" fill="#0072BD" text-anchor="middle" font-style="italic">Fresh</text>
<text x="1990" y="783.4" font-family="'Liberation Serif', 'Times New Roman', serif" font-size="62" fill="#0072BD" text-anchor="middle" font-style="italic">Foremilk</text>
<line x1="637" y1="1861" x2="310.98" y2="1978.51" stroke="#0072BD" stroke-width="4.5"/><polygon points="258.3,1997.5 322.18,1944.71 310.98,1978.51 341.17,1997.39" fill="#0072BD"/>
<text x="828.5" y="1843.4" font-family="'Liberation Serif', 'Times New Roman', serif" font-size="63" fill="#0072BD" text-anchor="middle" font-style="italic">Note scale for</text>
<text x="828.5" y="1921.2" font-family="'Liberation Serif', 'Times New Roman', serif" font-size="63" fill="#0072BD" text-anchor="middle" font-style="italic">comparison</text>
</svg></body></html>
